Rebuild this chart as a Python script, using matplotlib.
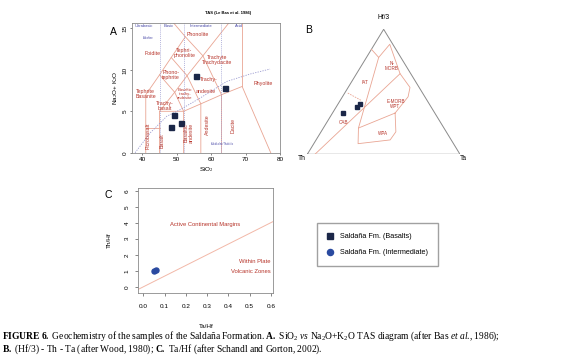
import matplotlib
matplotlib.use("Agg")
import matplotlib.pyplot as plt
from matplotlib.lines import Line2D

plt.rcParams['font.family'] = ['Liberation Sans', 'DejaVu Sans']
plt.rcParams['mathtext.fontset'] = 'custom'
plt.rcParams['mathtext.rm'] = 'Liberation Serif'
plt.rcParams['mathtext.it'] = 'Liberation Serif:italic'
plt.rcParams['mathtext.bf'] = 'Liberation Serif:bold'

# ---- data ----
# A: TAS samples (basalts)
tas_sio2 = [55.5, 64.0, 49.2, 51.2, 48.3]
tas_alk = [9.3, 7.85, 4.6, 3.6, 3.05]

# B: Hf/3 - Th - Ta, as fractions
b_th = [0.60, 0.485, 0.455]
b_ta = [0.07, 0.14, 0.145]
b_hf3 = [0.33, 0.375, 0.40]

# C: Ta/Hf vs Th/Hf (intermediate)
c_ta_hf = [0.050, 0.060]
c_th_hf = [0.98, 1.03]

# TAS field boundaries (Le Bas et al. 1986)
tas_fields = [
    [(41, 0), (41, 7), (45, 9.4), (48.4, 11.5), (52.5, 14), (48.4, 16)],
    [(41, 3), (45, 3)],
    [(45, 0), (45, 5), (49.4, 7.3), (53, 9.3), (57.6, 11.7), (61, 13.5), (65.2, 15.7)],
    [(45, 5), (52, 5), (57, 5.9), (63, 7), (69, 8), (77.3, 0)],
    [(52, 0), (52, 5), (49.4, 7.3)],
    [(57, 0), (57, 5.9), (53, 9.3), (48.4, 11.5)],
    [(63, 0), (63, 7), (57.6, 11.7), (52.5, 14)],
    [(45, 9.4), (49.4, 7.3)],
    [(69, 8), (69, 16)],
]
alk_sio2 = [37.9, 42.3, 47.1, 51.0, 56.8, 64.5, 71.3, 77.1]
alk_tot = [0, 2.4, 4.4, 5.2, 6.6, 8.6, 9.5, 10.1]
silica_div = [45, 52, 63]

tas_labels = [
    ("Foidite", 42.9, 12.0), ("Phonolite", 56.1, 14.3),
    ("Tephri-\nphonolite", 52.2, 12.0), ("Trachyte\nTrachydacite", 61.6, 11.2),
    ("Phono-\ntephrite", 48.3, 9.4), ("Trachy-", 59.4, 8.8),
    ("andesite", 58.5, 7.35), ("Rhyolite", 75.0, 8.4),
    ("Tephrite\nBasanite", 41.0, 7.1), ("Trachy-\nbasalt", 46.6, 5.7),
]
tas_vlabels = [("Picrobasalt", 41.7, 2.0), ("Basalt", 45.7, 1.4),
               ("Basaltic\nandesite", 53.4, 2.4), ("Andesite", 58.9, 3.4),
               ("Dacite", 66.5, 3.3)]
tas_blue = [("Ultrabasic", 40.5, 15.35), ("Basic", 47.8, 15.35),
            ("Intermediate", 57.0, 15.3), ("Acid", 68.2, 15.35)]

# Wood (1980) field boundaries as (Th, Ta, Hf/3)
wood_fields = [
    [(0.16, 0.0, 0.84), (0.145, 0.08, 0.775), (0.02, 0.10, 0.88), (0.07, 0.285, 0.645)],
    [(0.145, 0.08, 0.775), (0.56, 0.23, 0.21)],
    [(0.95, 0.05, 0.0), (0.07, 0.285, 0.645), (0.06, 0.405, 0.535),
     (0.11, 0.43, 0.46), (0.26, 0.41, 0.33)],
    [(0.26, 0.41, 0.33), (0.56, 0.23, 0.21), (0.625, 0.29, 0.085),
     (0.40, 0.485, 0.115), (0.33, 0.49, 0.18), (0.26, 0.41, 0.33)],
]
wood_dash = [(0.49, 0.02, 0.49), (0.43, 0.14, 0.43)]
wood_labels = [("N-\nMORB", 0.092, 0.202, 0.706), ("IAT", 0.335, 0.0915, 0.573),
               ("E-MORB\nWPT", 0.219, 0.375, 0.406), ("CAB", 0.636, 0.108, 0.256),
               ("WPA", 0.422, 0.41, 0.168)]

line_c = '#e9a593'
lab_c = '#b7352b'
blue_c = '#4a4aa8'
sq_c = '#1b2748'
W, H = 570, 357

fig = plt.figure(figsize=(5.7, 3.57), dpi=100)


def frac(x0, y0, x1, y1):
    return [x0 / W, 1 - y1 / H, (x1 - x0) / W, (y1 - y0) / H]


def style_axes(ax, ls):
    for s in ax.spines.values():
        s.set_color('#8a8a8a')
        s.set_linewidth(0.6)
    ax.tick_params(colors='#555555', labelcolor='black', width=0.5, labelsize=ls)


# ---- A: TAS ----
axA = fig.add_axes(frac(132, 22.7, 280, 152.7))
for seg in tas_fields:
    axA.plot([p[0] for p in seg], [p[1] for p in seg], color=line_c, lw=0.6)
for s in silica_div:
    axA.axvline(s, color='#9a9ad0', lw=0.5, ls=(0, (1.5, 1.5)))
axA.plot(alk_sio2, alk_tot, color='#9a9ad0', lw=0.6, ls=(0, (1.5, 1.5)))
axA.plot(tas_sio2, tas_alk, 's', color=sq_c, ms=3.6)
for t, x, y in tas_labels:
    axA.text(x, y, t, color=lab_c, fontsize=3.8, ha='center', va='center', linespacing=1.0)
axA.text(52.4, 7.1, "Basaltic\ntrachy-\nandesite", color=lab_c, fontsize=3.0,
         ha='center', va='center', linespacing=0.95)
for t, x, y in tas_vlabels:
    axA.text(x, y, t, color=lab_c, fontsize=3.8, ha='center', va='center',
             rotation=90, linespacing=1.0)
for t, x, y in tas_blue:
    axA.text(x, y, t, color=blue_c, fontsize=3.0, ha='center', va='center')
axA.text(41.6, 13.9, "Alcaline", color=blue_c, fontsize=2.0, ha='center', va='center')
axA.text(63.3, 1.0, "Subalkaline/Tholeiitic", color=blue_c, fontsize=1.8,
         ha='center', va='center')
axA.set_xlim(37, 80)
axA.set_ylim(0, 15.7)
axA.set_xticks([40, 50, 60, 70, 80])
axA.set_yticks([0, 5, 10, 15])
style_axes(axA, 4.6)
axA.tick_params(length=1.5, pad=1.5)
for lb in axA.get_yticklabels():
    lb.set_rotation(90)
    lb.set_va('center')
axA.set_xlabel("SiO$_2$", fontsize=4.6, labelpad=2)
axA.set_ylabel("Na$_2$O+ K$_2$O", fontsize=4.6, labelpad=2)
fig.text(228 / W, 1 - 12.7 / H, "TAS (Le Bas et al. 1986)", fontsize=3.0,
         fontweight='bold', ha='center', va='center')
fig.text(113 / W, 1 - 31.7 / H, "A", fontsize=7.5, ha='center', va='center')

# ---- B: ternary ----
axB = fig.add_axes(frac(307.3, 29.3, 460, 154.3))


def tern(th, ta, hf):
    tot = th + ta + hf
    return ta / tot + 0.5 * hf / tot, hf / tot


corners = [(1, 0, 0), (0, 1, 0), (0, 0, 1), (1, 0, 0)]
cx, cy = zip(*[tern(*c) for c in corners])
axB.plot(cx, cy, color='#8a8a8a', lw=0.7)
for seg in wood_fields:
    xs, ys = zip(*[tern(*p) for p in seg])
    axB.plot(xs, ys, color=line_c, lw=0.6)
dx, dy = zip(*[tern(*p) for p in wood_dash])
axB.plot(dx, dy, color=line_c, lw=0.6, ls=(0, (2, 1.2)))
bx, by = zip(*[tern(a, b, c) for a, b, c in zip(b_th, b_ta, b_hf3)])
axB.plot(bx, by, 's', color=sq_c, ms=3.2)
for t, a, b, c in wood_labels:
    x, y = tern(a, b, c)
    axB.text(x, y, t, color=lab_c, fontsize=3.3, ha='center', va='center', linespacing=1.0)
axB.text(0.498, 1.098, "Hf/3", fontsize=4.8, ha='center', va='center', clip_on=False)
axB.text(-0.037, -0.034, "Th", fontsize=4.8, ha='center', va='center', clip_on=False)
axB.text(1.022, -0.034, "Ta", fontsize=4.8, ha='center', va='center', clip_on=False)
axB.set_xlim(0, 1)
axB.set_ylim(0, 1)
axB.axis('off')
fig.text(308.3 / W, 1 - 30 / H, "B", fontsize=7.5, ha='center', va='center')

# ---- C: Ta/Hf vs Th/Hf ----
axC = fig.add_axes(frac(138.3, 188.3, 273.3, 292.7))
axC.axline((0, 0), slope=20 / 3, color='#f2b8a8', lw=0.7)
axC.plot(c_ta_hf, c_th_hf, 'o', color='#2a4aa0', ms=3.6)
axC.text(0.29, 3.9, "Active Continental Margins", color=lab_c, fontsize=4.2,
         ha='center', va='center')
axC.text(0.6, 1.6, "Within Plate", color=lab_c, fontsize=4.2, ha='right', va='center')
axC.text(0.6, 0.97, "Volcanic Zones", color=lab_c, fontsize=4.2, ha='right', va='center')
axC.set_xlim(-0.024, 0.612)
axC.set_ylim(-0.37, 6.15)
axC.set_xticks([0.0, 0.1, 0.2, 0.3, 0.4, 0.5, 0.6])
axC.set_yticks([0, 1, 2, 3, 4, 5, 6])
style_axes(axC, 4.6)
axC.tick_params(length=2.2, pad=4)
axC.tick_params(axis='x', pad=6)
for lb in axC.get_yticklabels():
    lb.set_rotation(90)
    lb.set_va('center')
axC.set_xlabel("Ta/Hf", fontsize=4.6, labelpad=11)
axC.set_ylabel("Th/Hf", fontsize=4.6, labelpad=9)
fig.text(108 / W, 1 - 195 / H, "C", fontsize=7.5, ha='center', va='center')

# legend
handles = [Line2D([], [], marker='s', ls='', color=sq_c, ms=4.4),
           Line2D([], [], marker='o', ls='', color='#2a4aa0', ms=4.4)]
fig.legend(handles, ["Saldaña Fm. (Basalts)", "Saldaña Fm. (Intermediate)"],
           loc='upper left', bbox_to_anchor=(316.7 / W, 1 - 223.3 / H),
           fontsize=5.2, frameon=True, fancybox=False, edgecolor='#8a8a8a',
           borderpad=1.4, labelspacing=1.2, handlelength=1.0, handletextpad=0.8,
           borderaxespad=0)

# caption
fig.text(2 / W, 1 - 338.4 / H,
         r"$\mathbf{FIGURE\ 6.}$ Geochemistry of the samples of the Saldaña Formation. "
         r"$\mathbf{A.}$ SiO$_2$ $\mathit{vs}$ Na$_2$O+K$_2$O TAS diagram (after Bas "
         r"$\mathit{et\ al}$., 1986);",
         fontsize=6.85, family='Liberation Serif', ha='left', va='baseline')
fig.text(2 / W, 1 - 351.4 / H,
         r"$\mathbf{B.}$ (Hf/3) - Th - Ta (after Wood, 1980); $\mathbf{C.}$ Ta/Hf "
         r"(after Schandl and Gorton, 2002).",
         fontsize=6.85, family='Liberation Serif', ha='left', va='baseline')

fig.savefig("out.png", dpi=100, facecolor='white')
